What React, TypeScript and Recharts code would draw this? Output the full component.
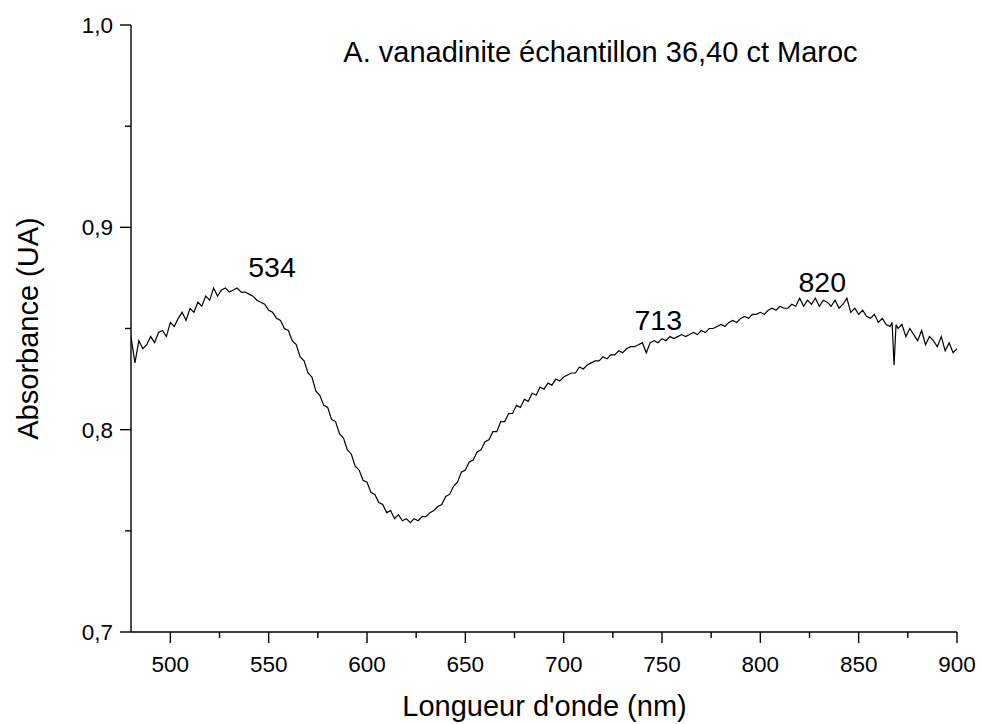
import React from 'react';
import { LineChart, Line, XAxis, YAxis, ReferenceDot } from 'recharts';

// wavelength (nm) and absorbance
const wavelengths = [
  480, 482, 484, 486, 488, 490, 492, 494, 496, 498,
  500, 502, 504, 506, 508, 510, 512, 514, 516, 518,
  520, 522, 524, 526, 528, 530, 532, 534, 536, 538,
  540, 542, 544, 546, 548, 550, 552, 554, 556, 558,
  560, 562, 564, 566, 568, 570, 572, 574, 576, 578,
  580, 582, 584, 586, 588, 590, 592, 594, 596, 598,
  600, 602, 604, 606, 608, 610, 612, 614, 616, 618,
  620, 622, 624, 626, 628, 630, 632, 634, 636, 638,
  640, 642, 644, 646, 648, 650, 652, 654, 656, 658,
  660, 662, 664, 666, 668, 670, 672, 674, 676, 678,
  680, 682, 684, 686, 688, 690, 692, 694, 696, 698,
  700, 702, 704, 706, 708, 710, 712, 714, 716, 718,
  720, 722, 724, 726, 728, 730, 732, 734, 736, 738,
  740, 742, 744, 746, 748, 750, 752, 754, 756, 758,
  760, 762, 764, 766, 768, 770, 772, 774, 776, 778,
  780, 782, 784, 786, 788, 790, 792, 794, 796, 798,
  800, 802, 804, 806, 808, 810, 812, 814, 816, 818,
  820, 822, 824, 826, 828, 830, 832, 834, 836, 838,
  840, 842, 844, 846, 848, 850, 852, 854, 856, 858,
  860, 862, 864, 866, 867, 868, 869,
  870, 872, 874, 876, 878, 880, 882, 884, 886, 888,
  890, 892, 894, 896, 898, 900,
];

const absorbance = [
  0.846, 0.833, 0.844, 0.840, 0.842, 0.846, 0.843, 0.848, 0.849, 0.846,
  0.853, 0.851, 0.855, 0.858, 0.854, 0.860, 0.858, 0.863, 0.861, 0.866,
  0.864, 0.870, 0.866, 0.869, 0.870, 0.868, 0.869, 0.870, 0.868, 0.868,
  0.867, 0.866, 0.864, 0.863, 0.862, 0.859, 0.858, 0.855, 0.854, 0.850,
  0.849, 0.844, 0.842, 0.836, 0.834, 0.828, 0.826, 0.819, 0.817, 0.812,
  0.811, 0.805, 0.804, 0.798, 0.796, 0.790, 0.788, 0.782, 0.780, 0.775,
  0.774, 0.769, 0.768, 0.764, 0.763, 0.759, 0.760, 0.756, 0.758, 0.755,
  0.756, 0.754, 0.756, 0.755, 0.757, 0.757, 0.759, 0.760, 0.762, 0.763,
  0.767, 0.768, 0.772, 0.774, 0.779, 0.780, 0.784, 0.785, 0.789, 0.790,
  0.794, 0.795, 0.799, 0.799, 0.804, 0.804, 0.808, 0.808, 0.812, 0.811,
  0.815, 0.814, 0.818, 0.817, 0.821, 0.820, 0.823, 0.822, 0.825, 0.824,
  0.826, 0.827, 0.828, 0.828, 0.831, 0.830, 0.832, 0.833, 0.834, 0.834,
  0.836, 0.835, 0.837, 0.837, 0.839, 0.838, 0.840, 0.841, 0.841, 0.842,
  0.843, 0.838, 0.843, 0.844, 0.843, 0.845, 0.844, 0.846, 0.845, 0.846,
  0.847, 0.846, 0.847, 0.848, 0.847, 0.849, 0.848, 0.850, 0.850, 0.851,
  0.852, 0.851, 0.853, 0.854, 0.853, 0.855, 0.856, 0.855, 0.857, 0.857,
  0.858, 0.857, 0.859, 0.860, 0.859, 0.861, 0.860, 0.860, 0.862, 0.861,
  0.865, 0.861, 0.864, 0.862, 0.865, 0.861, 0.864, 0.863, 0.861, 0.864,
  0.860, 0.862, 0.865, 0.858, 0.860, 0.857, 0.859, 0.856, 0.855, 0.857,
  0.853, 0.855, 0.852, 0.851, 0.853, 0.832, 0.852,
  0.850, 0.852, 0.846, 0.850, 0.847, 0.844, 0.849, 0.842, 0.846, 0.844,
  0.841, 0.846, 0.839, 0.843, 0.838, 0.840,
];

const xTicks = [500, 525, 550, 575, 600, 625, 650, 675, 700, 725, 750, 775, 800, 825, 850, 875, 900];
const yTicks = [0.7, 0.75, 0.8, 0.85, 0.9, 0.95, 1.0];

const peakLabels = ['534', '713', '820'];
// where each peak label sits, in data units
const peakLabelPos = [
  { x: 551.7, y: 0.8804 },
  { x: 748.1, y: 0.8545 },
  { x: 831.5, y: 0.8728 },
];

const chartTitle = 'A. vanadinite échantillon 36,40 ct Maroc';
const xTitle = "Longueur d'onde (nm)";
const yTitle = 'Absorbance (UA)';

const data = wavelengths.map((nm, i) => ({ nm, abs: absorbance[i] }));

const FONT = '"Liberation Sans", Arial, sans-serif';

const XTick = (props: any) => {
  const { x, y, payload } = props;
  const v = payload.value;
  const major = v % 50 === 0;
  return (
    <g>
      <line x1={x} x2={x} y1={y} y2={y + (major ? 11 : 6)} stroke="#000" strokeWidth={1.4} />
      {major && (
        <text x={x} y={y + 40} textAnchor="middle" fontSize={22.5} fill="#000" fontFamily={FONT}>
          {v}
        </text>
      )}
    </g>
  );
};

const YTick = (props: any) => {
  const { x, y, payload } = props;
  const v = payload.value;
  const major = Math.abs(v * 10 - Math.round(v * 10)) < 1e-6;
  return (
    <g>
      <line x1={x - (major ? 11 : 6)} x2={x} y1={y} y2={y} stroke="#000" strokeWidth={1.4} />
      {major && (
        <text x={x - 18} y={y + 8} textAnchor="end" fontSize={22.5} fill="#000" fontFamily={FONT}>
          {v.toFixed(1).replace('.', ',')}
        </text>
      )}
    </g>
  );
};

export default function App() {
  return (
    <div style={{ position: 'absolute', left: 0, top: 0, width: 982, height: 724, background: '#fff', fontFamily: FONT }}>
      <LineChart width={982} height={724} data={data} margin={{ top: 25, right: 25, bottom: 42, left: 71 }}>
        <XAxis
          dataKey="nm"
          type="number"
          domain={[480, 900]}
          ticks={xTicks}
          interval={0}
          allowDataOverflow
          height={50}
          tickSize={0}
          tickMargin={0}
          tickLine={false}
          axisLine={{ stroke: '#000', strokeWidth: 1.4 }}
          tick={<XTick />}
        />
        <YAxis
          type="number"
          domain={[0.7, 1.0]}
          ticks={yTicks}
          interval={0}
          allowDataOverflow
          width={60}
          tickSize={0}
          tickMargin={0}
          tickLine={false}
          axisLine={{ stroke: '#000', strokeWidth: 1.4 }}
          tick={<YTick />}
        />
        <Line
          type="linear"
          dataKey="abs"
          stroke="#000"
          strokeWidth={1.2}
          dot={false}
          activeDot={false}
          isAnimationActive={false}
        />
        {peakLabels.map((label, i) => (
          <ReferenceDot
            key={label}
            x={peakLabelPos[i].x}
            y={peakLabelPos[i].y}
            r={0}
            fill="none"
            stroke="none"
            ifOverflow="visible"
            label={{ value: label, position: 'center', fill: '#000', fontSize: 28.5, fontFamily: FONT }}
          />
        ))}
      </LineChart>
      <svg width={982} height={724} style={{ position: 'absolute', left: 0, top: 0, pointerEvents: 'none' }}>
        <text x={600.5} y={62} textAnchor="middle" fontSize={29} fill="#000" fontFamily={FONT}>
          {chartTitle}
        </text>
        <text x={544.5} y={716} textAnchor="middle" fontSize={29} fill="#000" fontFamily={FONT}>
          {xTitle}
        </text>
        <text
          x={28}
          y={328.5}
          textAnchor="middle"
          dy="0.35em"
          fontSize={29}
          fill="#000"
          fontFamily={FONT}
          transform="rotate(-90, 28, 328.5)"
        >
          {yTitle}
        </text>
      </svg>
    </div>
  );
}
